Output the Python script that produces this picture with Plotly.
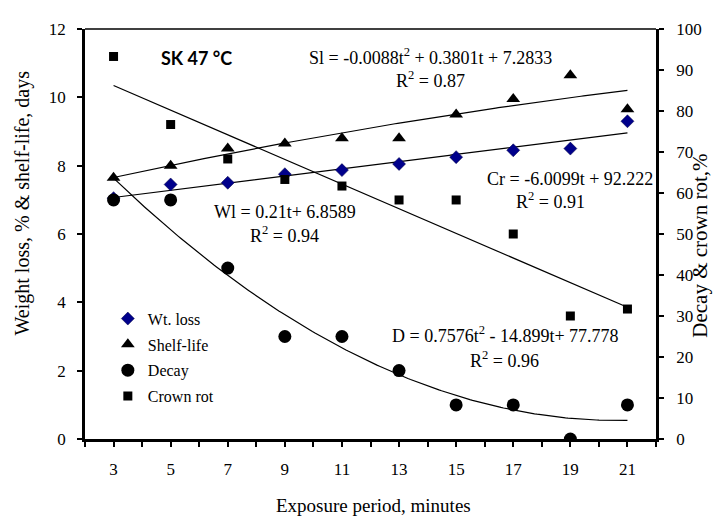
import numpy as np
import plotly.graph_objects as go

# ---- data ----
exposure = [3, 5, 7, 9, 11, 13, 15, 17, 19, 21]
wt_loss = [7.05, 7.45, 7.5, 7.75, 7.87, 8.05, 8.25, 8.45, 8.5, 9.3]          # left axis
shelf_life = [7.65, 8.0, 8.5, 8.65, 8.8, 8.8, 9.5, 9.95, 10.65, 9.65]       # left axis
decay = [58.3, 58.3, 41.7, 25.0, 25.0, 16.7, 8.3, 8.3, 0.0, 8.3]            # right axis
crown_rot = [93.3, 76.7, 68.3, 63.3, 61.7, 58.3, 58.3, 50.0, 30.0, 31.7]    # right axis

# trendline coefficients (t = index 1..n), highest power first
wl_coef = [0.21, 6.8589]
sl_coef = [-0.0088, 0.3801, 7.2833]
d_coef = [0.7576, -14.899, 77.778]
cr_coef = [-6.0099, 92.222]

x_ticks = [3, 5, 7, 9, 11, 13, 15, 17, 19, 21]

SERIF = "Liberation Serif, Times New Roman, Times, DejaVu Serif, serif"

n = len(exposure)
t_fine = np.linspace(1, n, 200)
x_fine = np.interp(t_fine, np.arange(1, n + 1), exposure)

fig = go.Figure()

# trendlines
for coef, axis in [(wl_coef, "y"), (sl_coef, "y"), (d_coef, "y2"), (cr_coef, "y2")]:
    fig.add_trace(go.Scatter(x=x_fine, y=np.polyval(coef, t_fine), mode="lines",
                             line=dict(color="black", width=1.2), yaxis=axis,
                             showlegend=False, hoverinfo="skip"))

fig.add_trace(go.Scatter(x=exposure, y=wt_loss, mode="markers", name="Wt. loss", legendgroup="a",
                         marker=dict(symbol="diamond", size=10, color="#00008B",
                                     line=dict(color="#000040", width=0.5))))
fig.add_trace(go.Scatter(x=exposure, y=shelf_life, mode="markers", name="Shelf-life", legendgroup="b",
                         marker=dict(symbol="triangle-up", size=12, color="black")))
fig.add_trace(go.Scatter(x=exposure, y=decay, mode="markers", name="Decay", yaxis="y2", legendgroup="c",
                         marker=dict(symbol="circle", size=13, color="black")))
fig.add_trace(go.Scatter(x=exposure, y=crown_rot, mode="markers", name="Crown rot", yaxis="y2", legendgroup="d",
                         marker=dict(symbol="square", size=9, color="black")))

tickfont = dict(family=SERIF, size=17, color="black")
annfont = dict(family=SERIF, size=18, color="black")

fig.update_layout(
    width=721, height=517,
    margin=dict(l=77, r=73, t=14, b=86),
    paper_bgcolor="white", plot_bgcolor="white",
    showlegend=True,
    legend=dict(x=0.04, y=0.335, xanchor="left", yanchor="top", bgcolor="rgba(0,0,0,0)",
                font=dict(family=SERIF, size=16, color="black"),
                itemwidth=30, tracegroupgap=2),
    xaxis=dict(range=[2, 22], tickmode="array", tickvals=x_ticks,
               ticktext=[str(v) for v in x_ticks],
               showline=True, linecolor="black", linewidth=2.5,
               ticks="outside", ticklen=5, tickwidth=1.5, tickcolor="black",
               minor=dict(tickmode="linear", tick0=2, dtick=1, ticks="outside",
                          ticklen=5, tickwidth=1.5, tickcolor="black", showgrid=False),
               showgrid=False, zeroline=False, tickfont=tickfont, ticklabelstandoff=8),
    yaxis=dict(range=[0, 12], dtick=2, showline=True, linecolor="black", linewidth=2.5,
               ticks="outside", ticklen=5, tickwidth=1.5, tickcolor="black",
               showgrid=False, zeroline=False, tickfont=tickfont, ticklabelstandoff=8),
    yaxis2=dict(range=[0, 100], dtick=10, overlaying="y", side="right",
                showline=True, linecolor="black", linewidth=2.5,
                ticks="outside", ticklen=5, tickwidth=1.5, tickcolor="black",
                showgrid=False, zeroline=False, tickfont=tickfont, ticklabelstandoff=9),
    shapes=[dict(type="line", xref="paper", yref="paper", x0=0, x1=1, y0=1, y1=1,
                 line=dict(color="black", width=1.5))],
)

# axis titles
fig.add_annotation(text="Exposure period, minutes", xref="paper", yref="paper",
                   x=0.506, y=-0.163, xanchor="center", yanchor="middle",
                   showarrow=False, font=dict(family=SERIF, size=19, color="black"))
fig.add_annotation(text="Weight loss, % & shelf-life, days", xref="paper", yref="paper",
                   x=-0.11, y=0.247, xanchor="center", yanchor="bottom", textangle=-90,
                   showarrow=False, font=dict(family=SERIF, size=20, color="black"))
fig.add_annotation(text="Decay & crown rot,%", xref="paper", yref="paper",
                   x=1.077, y=0.242, xanchor="center", yanchor="bottom", textangle=-90,
                   showarrow=False, font=dict(family=SERIF, size=21, color="black"))

def ann(text, x, y, font=annfont):
    fig.add_annotation(text=text, x=x, y=y, xref="x", yref="y", showarrow=False,
                       font=font, xanchor="center", yanchor="middle")

ann("<b>SK 47 °C</b>", 5.9, 11.14, dict(family="Lato", size=18, color="black"))
ann("Sl = -0.0088t<sup>2</sup> + 0.3801t + 7.2833", 14.1, 11.2)
ann("R<sup>2</sup> = 0.87", 14.1, 10.53)
ann("Cr = -6.0099t + 92.222", 19.0, 7.62)
ann("R<sup>2</sup> = 0.91", 18.3, 6.98)
ann("Wl = 0.21t+ 6.8589", 9.0, 6.65)
ann("R<sup>2</sup> = 0.94", 9.0, 5.98)
ann("D = 0.7576t<sup>2</sup> - 14.899t+ 77.778", 16.73, 3.05)
ann("R<sup>2</sup> = 0.96", 16.7, 2.33)

fig.write_html("out.html")
